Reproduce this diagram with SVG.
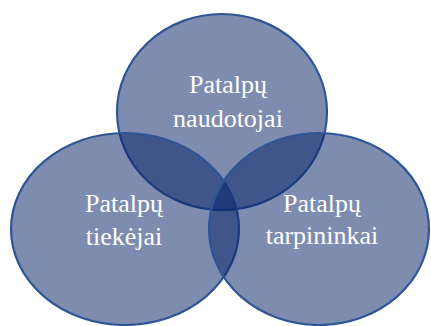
<svg xmlns="http://www.w3.org/2000/svg" width="431" height="326" viewBox="0 0 431 326">
<style>
.c{fill:rgb(7,35,103);fill-opacity:0.52;stroke:#2F5597;stroke-width:2.2}
.t{font-family:"Liberation Serif","Times New Roman",serif;font-size:26px;fill:#ffffff;text-anchor:middle}
</style>
<rect width="431" height="326" fill="#ffffff"/>
<g id="n-top"><ellipse class="c" cx="222" cy="112" rx="105" ry="98"/></g>
<g id="n-left"><ellipse class="c" cx="125" cy="229" rx="114" ry="96"/></g>
<g id="n-right"><ellipse class="c" cx="319" cy="229" rx="110" ry="96"/></g>
<g id="labels">
<text class="t" x="228" y="93">Patalpų</text>
<text class="t" x="228" y="127">naudotojai</text>
<text class="t" x="124" y="212">Patalpų</text>
<text class="t" x="124" y="245">tiekėjai</text>
<text class="t" x="322" y="212">Patalpų</text>
<text class="t" x="322" y="244">tarpininkai</text>
</g>
<g id="connectors"/>
</svg>
